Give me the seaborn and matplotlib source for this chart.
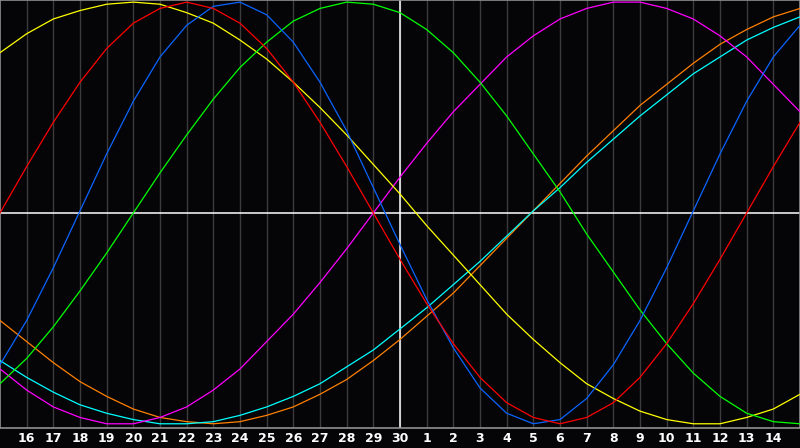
import numpy as np
import pandas as pd
import matplotlib
matplotlib.use("Agg")
import matplotlib.pyplot as plt
import seaborn as sns

# -- chart data: one value per day, 31 days (previous 15th .. next 15th) --
day_index = list(range(31))
tick_labels = ["16", "17", "18", "19", "20", "21", "22", "23", "24", "25",
               "26", "27", "28", "29", "30", "1", "2", "3", "4", "5",
               "6", "7", "8", "9", "10", "11", "12", "13", "14"]

awareness = [-0.51, -0.61, -0.71, -0.80, -0.87, -0.93, -0.97, -0.99, -1.00, -0.99,
             -0.96, -0.92, -0.86, -0.79, -0.70, -0.60, -0.49, -0.38, -0.25, -0.12,
             0.01, 0.14, 0.27, 0.39, 0.51, 0.61, 0.71, 0.80, 0.87, 0.93, 0.97]
spiritual = [-0.70, -0.78, -0.85, -0.91, -0.95, -0.98, -1.00, -1.00, -0.99, -0.96,
             -0.92, -0.87, -0.81, -0.73, -0.65, -0.55, -0.45, -0.34, -0.23, -0.11,
             0.01, 0.12, 0.24, 0.35, 0.46, 0.56, 0.66, 0.74, 0.82, 0.88, 0.93]
intuitive = [-0.74, -0.84, -0.92, -0.97, -1.00, -1.00, -0.97, -0.92, -0.84, -0.74,
             -0.61, -0.48, -0.33, -0.17, 0.00, 0.17, 0.33, 0.48, 0.61, 0.74,
             0.84, 0.92, 0.97, 1.00, 1.00, 0.97, 0.92, 0.84, 0.74, 0.61, 0.48]
aesthetic = [0.76, 0.85, 0.92, 0.96, 0.99, 1.00, 0.99, 0.95, 0.90, 0.82,
             0.73, 0.62, 0.50, 0.37, 0.23, 0.09, -0.06, -0.20, -0.34, -0.48,
             -0.60, -0.71, -0.81, -0.88, -0.94, -0.98, -1.00, -1.00, -0.97, -0.93, -0.86]
intellectual = [-0.81, -0.69, -0.54, -0.37, -0.19, 0.00, 0.19, 0.37, 0.54, 0.69,
                0.81, 0.91, 0.97, 1.00, 0.99, 0.95, 0.87, 0.76, 0.62, 0.46,
                0.28, 0.10, -0.10, -0.28, -0.46, -0.62, -0.76, -0.87, -0.95, -0.99, -1.00]
physical = [-0.72, -0.51, -0.26, 0.01, 0.28, 0.53, 0.74, 0.89, 0.98, 1.00,
            0.94, 0.81, 0.62, 0.39, 0.12, -0.15, -0.41, -0.64, -0.83, -0.95,
            -1.00, -0.98, -0.88, -0.72, -0.51, -0.26, 0.01, 0.28, 0.53, 0.74, 0.89]
emotional = [0.00, 0.22, 0.43, 0.62, 0.78, 0.90, 0.97, 1.00, 0.97, 0.90,
             0.78, 0.62, 0.43, 0.22, 0.00, -0.22, -0.43, -0.62, -0.78, -0.90,
             -0.97, -1.00, -0.97, -0.90, -0.78, -0.62, -0.43, -0.22, 0.00, 0.22, 0.43]

series = {
    "awareness": awareness,
    "spiritual": spiritual,
    "intuitive": intuitive,
    "aesthetic": aesthetic,
    "intellectual": intellectual,
    "physical": physical,
    "emotional": emotional,
}
palette = {
    "awareness": "#ff8000",
    "spiritual": "#00ffff",
    "intuitive": "#ff00ff",
    "aesthetic": "#ffff00",
    "intellectual": "#00ff00",
    "physical": "#0a64ff",
    "emotional": "#ff0000",
}

df = pd.concat(
    [pd.DataFrame({"day": day_index, "value": v, "cycle": k}) for k, v in series.items()],
    ignore_index=True,
)

bg = "#050508"
sns.set_style("dark", {"axes.facecolor": bg, "figure.facecolor": bg})
plt.rcParams["font.family"] = ["DejaVu Sans"]

fig = plt.figure(figsize=(8, 4.48), dpi=100)
ax = fig.add_axes([0, 20 / 448, 1, 428 / 448])

# day grid
for d in day_index[1:-1]:
    ax.axvline(d, color="#3c3c3c", lw=1, zorder=0)

sns.lineplot(data=df, x="day", y="value", hue="cycle", hue_order=list(series.keys()),
             palette=palette, legend=False, lw=0.9, ax=ax, zorder=3)

ax.axhline(0, color="white", lw=1.1, zorder=2)
ax.axvline(15, color="white", lw=1.1, zorder=2)

ax.set_xlim(0, 30)
ax.set_ylim(-1.02, 1.01)
ax.set_xticks(day_index[1:-1])
ax.set_xticklabels(tick_labels, color="white", fontsize=9, fontweight="bold")
ax.set_yticks([])
ax.tick_params(axis="x", length=0, pad=3)
ax.set_xlabel("")
ax.set_ylabel("")
ax.grid(False)
for s in ax.spines.values():
    s.set_visible(True)
    s.set_color("#909090")
    s.set_linewidth(1.2)

fig.savefig("out.png", dpi=100, facecolor=bg)
